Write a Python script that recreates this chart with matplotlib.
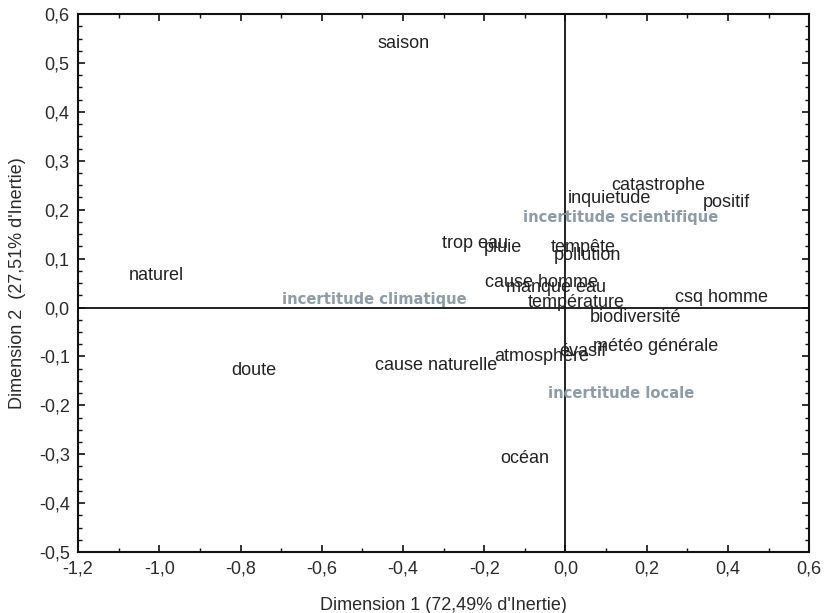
import matplotlib
matplotlib.use("Agg")
import matplotlib.pyplot as plt
from matplotlib.ticker import MultipleLocator, FuncFormatter

# word labels (left edge x, centre y in dimension coordinates)
words = ["saison", "naturel", "doute", "cause naturelle", "atmosphère", "évasif",
         "météo générale", "océan", "biodiversité", "température", "csq homme",
         "cause homme", "manque eau", "trop eau", "pluie", "tempête", "pollution",
         "inquietude", "catastrophe", "positif"]
dim1 = [-0.463, -1.075, -0.824, -0.470, -0.176, -0.016,
        0.067, -0.161, 0.060, -0.093, 0.269,
        -0.198, -0.146, -0.304, -0.201, -0.037, -0.029,
        0.005, 0.112, 0.337]
dim2 = [0.539, 0.065, -0.128, -0.118, -0.100, -0.089,
        -0.079, -0.309, -0.021, 0.010, 0.020,
        0.052, 0.041, 0.130, 0.123, 0.123, 0.106,
        0.222, 0.249, 0.215]

# supplementary categories
groups = ["incertitude climatique", "incertitude scientifique", "incertitude locale"]
g_dim1 = [-0.699, -0.105, -0.043]
g_dim2 = [0.017, 0.184, -0.175]

xticks = [-1.2, -1.0, -0.8, -0.6, -0.4, -0.2, 0.0, 0.2, 0.4, 0.6]
yticks = [-0.5, -0.4, -0.3, -0.2, -0.1, 0.0, 0.1, 0.2, 0.3, 0.4, 0.5, 0.6]

plt.rcParams['font.family'] = ['Liberation Sans', 'DejaVu Sans']

fig = plt.figure(figsize=(8.24, 6.13), dpi=100)
ax = fig.add_axes([0.0947, 0.0995, 0.8873, 0.8775])
ax.set_xlim(-1.2, 0.6)
ax.set_ylim(-0.5, 0.6)

ax.axhline(0, color='#111111', lw=1.3, zorder=1)
ax.axvline(0, color='#111111', lw=1.3, zorder=1)

fs = 13.0
for w, x, y in zip(words, dim1, dim2):
    ax.text(x, y, w, ha='left', va='center', fontsize=fs, color='#222222', zorder=3)
for g, x, y in zip(groups, g_dim1, g_dim2):
    ax.text(x, y, g, ha='left', va='center', fontsize=10.6, color='#8d9ca6',
            fontweight='bold', family=['DejaVu Sans'], zorder=2)

ax.set_xticks(xticks)
ax.set_yticks(yticks)
ax.xaxis.set_minor_locator(MultipleLocator(0.1))
ax.yaxis.set_minor_locator(MultipleLocator(0.025))
fmt = FuncFormatter(lambda v, p: f"{v:.1f}".replace('.', ','))
ax.xaxis.set_major_formatter(fmt)
ax.yaxis.set_major_formatter(fmt)
ax.tick_params(which='both', direction='in', top=True, right=True, colors='#111111',
               labelcolor='#2a2a2a', labelsize=fs)
ax.tick_params(which='major', length=5, width=1.2)
ax.tick_params(which='minor', length=3, width=1.0)
ax.tick_params(axis='x', pad=6)
ax.tick_params(axis='y', pad=6)

for s in ax.spines.values():
    s.set_linewidth(1.5)
    s.set_color('#111111')

ax.set_xlabel("Dimension 1 (72,49% d'Inertie)", fontsize=fs, color='#2a2a2a', labelpad=14)
ax.set_ylabel("Dimension 2  (27,51% d'Inertie)", fontsize=fs, color='#2a2a2a', labelpad=9)

fig.savefig("out.png", dpi=100, facecolor='white')
